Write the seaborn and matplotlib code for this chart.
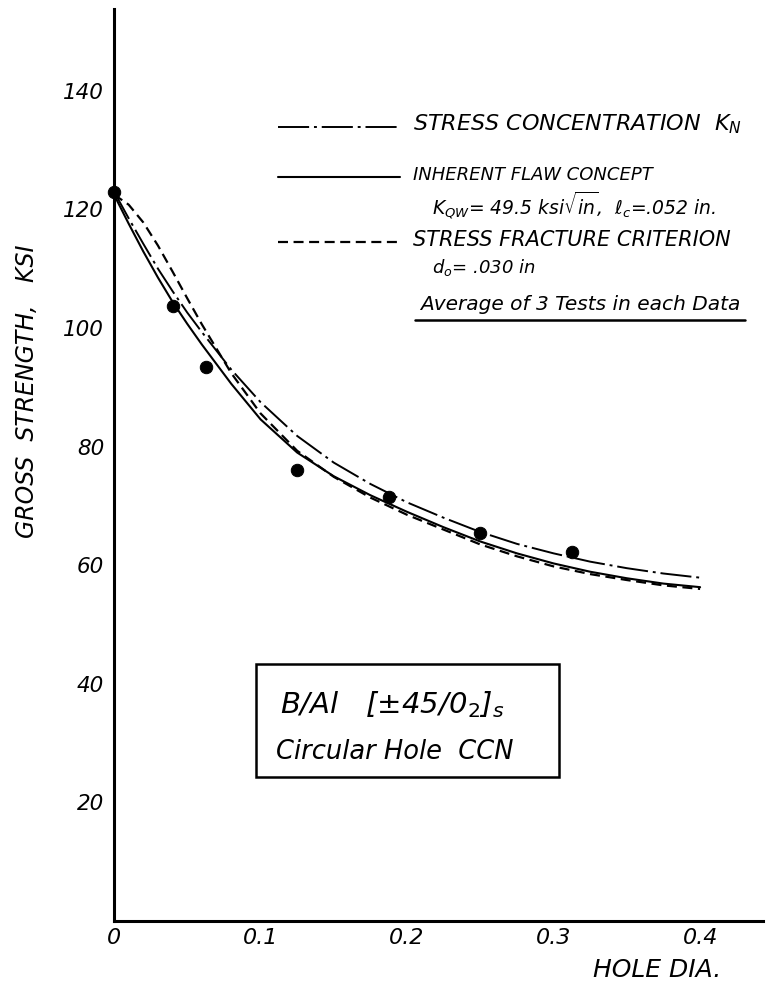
import numpy as np
import pandas as pd
import matplotlib
matplotlib.use("Agg")
import matplotlib.pyplot as plt
from matplotlib.lines import Line2D
import seaborn as sns

# test data: average of 3 tests per hole size
hole_dia = [0.0, 0.04, 0.0625, 0.125, 0.1875, 0.25, 0.3125]
strength = [123.0, 103.7, 93.5, 76.0, 71.5, 65.4, 62.2]

# curves
curve_x = [0.0, 0.01, 0.02, 0.03, 0.04, 0.05, 0.06, 0.08, 0.10, 0.125, 0.15,
           0.175, 0.20, 0.225, 0.25, 0.275, 0.30, 0.325, 0.35, 0.375, 0.40]
stress_conc = [123.0, 118.5, 114.2, 110.0, 106.2, 102.6, 99.3, 93.0, 87.5, 81.8, 77.3,
               73.7, 70.6, 68.0, 65.6, 63.6, 62.0, 60.6, 59.5, 58.6, 57.9]
inherent_flaw = [122.5, 117.6, 112.9, 108.5, 104.4, 100.7, 97.2, 90.6, 84.6, 79.0, 75.0,
                 71.8, 69.0, 66.4, 64.0, 62.0, 60.3, 58.9, 57.8, 56.9, 56.3]
stress_fract = [122.5, 120.8, 117.8, 113.9, 109.5, 105.0, 100.6, 92.4, 85.6, 79.3, 74.9,
                71.4, 68.5, 66.0, 63.5, 61.5, 59.8, 58.5, 57.5, 56.6, 56.0]

x_ticks = [0, 0.1, 0.2, 0.3, 0.4]
x_ticklabels = ["0", "0.1", "0.2", "0.3", "0.4"]
y_ticks = [20, 40, 60, 80, 100, 120, 140]

sns.set_style("white")
plt.rcParams['font.family'] = ['DejaVu Sans']
plt.rcParams['mathtext.fontset'] = 'dejavusans'
plt.rcParams['text.color'] = 'black'
plt.rcParams['xtick.color'] = 'black'
plt.rcParams['ytick.color'] = 'black'

fig = plt.figure(figsize=(7.83, 9.86), dpi=100)
ax = fig.add_axes([0.1456, 0.0659, 0.829, 0.925])

dash_dot = (0, (16, 2.5, 1.5, 2.5))
dashed = (0, (4.5, 2.5))

curves = pd.DataFrame({"x": curve_x, "kn": stress_conc, "flaw": inherent_flaw, "sfc": stress_fract})
sns.lineplot(data=curves, x="x", y="kn", ax=ax, color="black", lw=1.4, linestyle=dash_dot)
sns.lineplot(data=curves, x="x", y="flaw", ax=ax, color="black", lw=1.5)
sns.lineplot(data=curves, x="x", y="sfc", ax=ax, color="black", lw=1.6, linestyle=dashed)

pts = pd.DataFrame({"d": hole_dia, "s": strength})
sns.scatterplot(data=pts, x="d", y="s", ax=ax, color="black", s=80, edgecolor="black",
                zorder=5, clip_on=False)

ax.set_xlim(0, 0.443)
ax.set_ylim(0, 153.8)
ax.set_xticks(x_ticks)
ax.set_xticklabels(x_ticklabels)
ax.set_yticks(y_ticks)
for s in ["top", "right"]:
    ax.spines[s].set_visible(False)
for s in ["left", "bottom"]:
    ax.spines[s].set_color("black")
    ax.spines[s].set_linewidth(2.2)
ax.tick_params(axis="y", direction="inout", length=12, width=2, color="black",
               labelsize=15.5, pad=1, labelcolor="black")
ax.tick_params(axis="x", direction="in", length=14, width=2, color="black",
               labelsize=16, pad=5, labelcolor="black")
for lab in ax.get_xticklabels() + ax.get_yticklabels():
    lab.set_fontstyle("italic")
ax.set_xlabel("")
ax.set_ylabel("")

fig.text(0.034, 0.603, "GROSS  STRENGTH,   KSI", rotation=90, ha="center", va="center",
         fontsize=17, fontstyle="italic")
fig.text(657 / 783, 1 - 970 / 986, "HOLE DIA.", ha="center", va="center", fontsize=18,
         fontstyle="italic")

# legend drawn by hand, in figure pixels
def px(x, y):
    return x / 783, 1 - y / 986

leg = [(127, dash_dot, 1.4), (177, "-", 1.5), (242, dashed, 1.6)]
for y, ls, lw in leg:
    x0, yy = px(278, y)
    x1, _ = px(400, y)
    fig.add_artist(Line2D([x0, x1], [yy, yy], color="black", lw=lw, linestyle=ls))

txt = dict(fontstyle="italic", va="center", ha="left")
fig.text(*px(413, 124), "STRESS CONCENTRATION  $K_N$", fontsize=16, **txt)
fig.text(*px(413, 175), "INHERENT FLAW CONCEPT", fontsize=13, **txt)
fig.text(*px(432, 205), r"$K_{QW}$= 49.5 ksi$\sqrt{in}$,  $\ell_c$=.052 in.", fontsize=13.5, **txt)
fig.text(*px(413, 240), "STRESS FRACTURE CRITERION", fontsize=15, **txt)
fig.text(*px(432, 268), "$d_o$= .030 in", fontsize=13, **txt)
fig.text(*px(580, 304), "Average of 3 Tests in each Data", fontsize=14.5, fontstyle="italic",
         va="center", ha="center")
ux0, uy = px(415, 320)
ux1, _ = px(745, 320)
fig.add_artist(Line2D([ux0, ux1], [uy, uy], color="black", lw=1.8))

# material box
bx0, by0 = px(256, 777)
bx1, by1 = px(559, 664)
fig.add_artist(plt.Rectangle((bx0, by0), bx1 - bx0, by1 - by0, fill=False,
                             edgecolor="black", lw=1.8, transform=fig.transFigure))
fig.text(*px(280, 705), r"B/Al   [$\pm$45/0$_2$]$_s$", fontsize=21, fontstyle="italic",
         va="center", ha="left")
fig.text(*px(276, 752), "Circular Hole  CCN", fontsize=18.5, fontstyle="italic",
         va="center", ha="left")

fig.savefig("out.png", dpi=100)
